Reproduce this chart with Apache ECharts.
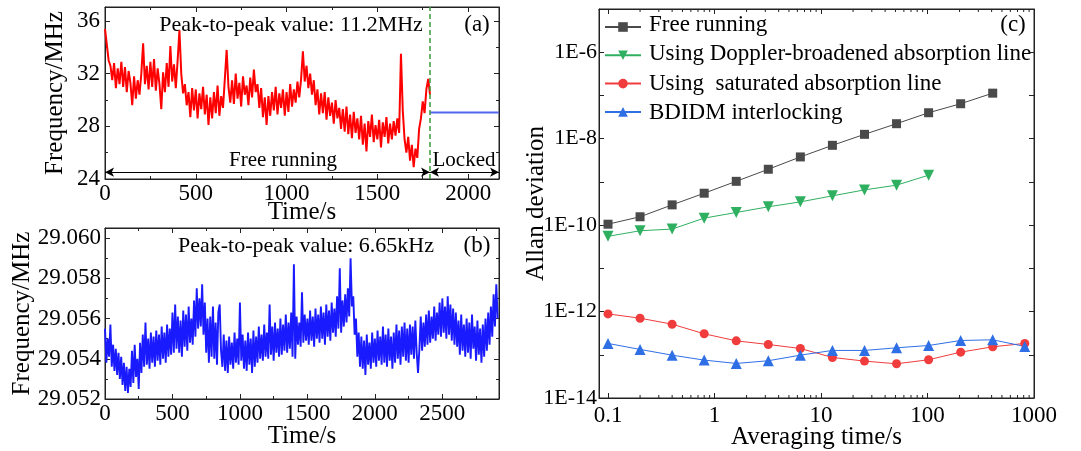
<!DOCTYPE html>
<html>
<head>
<meta charset="utf-8">
<script src="https://cdn.jsdelivr.net/npm/echarts@6/dist/echarts.min.js"></script>
<style>
  html, body { margin: 0; padding: 0; background: #fff; }
  #main { width: 1081px; height: 451px; }
</style>
</head>
<body>
<div id="main"></div>
<script>
// (a) free running beat frequency, one sample every 10 s, MHz
var freeRunStep = 10;
var freeRunMHz = [
  35.4, 34.2, 33.0, 32.6, 31.5, 32.8, 30.9, 32.4, 31.2, 32.9,
  31.0, 32.5, 30.6, 32.2, 31.3, 29.6, 31.8, 30.1, 31.5, 30.4,
  32.0, 34.3, 31.2, 32.6, 30.8, 32.9, 31.0, 33.1, 30.7, 32.4,
  31.2, 29.3, 32.1, 30.6, 32.8, 31.0, 34.1, 31.4, 32.7, 30.9,
  33.0, 35.3, 32.0, 30.5, 31.2, 29.6, 30.6, 28.7, 30.9, 29.2,
  30.8, 28.6, 30.5, 29.3, 31.0, 28.9, 30.4, 28.1, 30.2, 28.6,
  30.6, 29.0, 31.1, 28.8, 30.3, 29.4, 31.6, 33.8, 31.0, 29.8,
  31.5, 29.7, 32.0, 30.1, 31.3, 29.5, 31.8, 30.4, 31.1, 29.6,
  31.7, 30.2, 32.3, 30.6, 31.2, 29.4, 30.9, 28.7, 30.2, 28.1,
  30.3, 28.8, 30.6, 29.2, 31.0, 28.9, 30.5, 29.4, 30.8, 28.8,
  30.6, 29.1, 31.2, 29.5, 30.8, 29.8, 31.4, 30.2, 31.6, 33.7,
  31.4, 32.6, 30.9, 32.0, 30.4, 31.5, 29.6, 30.8, 28.9, 30.5,
  29.0, 30.6, 28.5, 30.2, 28.8, 29.8, 28.2, 30.0, 28.6, 29.4,
  27.8, 29.3, 27.6, 29.5, 27.4, 28.9, 27.1, 29.1, 27.5, 28.6,
  27.0, 28.8, 26.6, 28.2, 26.1, 28.4, 27.2, 28.9, 26.8, 28.1,
  27.0, 28.5, 26.4, 28.3, 27.2, 28.7, 26.7, 28.2, 27.0, 28.4,
  27.3, 28.6, 27.5, 33.5, 29.2, 27.0, 26.0, 27.2, 25.4, 26.6,
  24.9, 26.3, 25.6, 27.8, 28.6, 29.9, 29.0, 30.8, 31.6, 30.4
];
var lockTime = 1790;
var lockedMHz = 29.054;
var timeEndA = 2170;

// (b) locked beat frequency, one sample every 10 s, MHz
var lockedStep = 10;
var lockedTraceMHz = [
  29.0555, 29.0538, 29.0550, 29.0541, 29.0557, 29.0536, 29.0547, 29.0534, 29.0545, 29.0532,
  29.0543, 29.0530, 29.0541, 29.0527, 29.0538, 29.0524, 29.0536, 29.0523, 29.0535, 29.0526,
  29.0544, 29.0528, 29.0547, 29.0531, 29.0540, 29.0525, 29.0548, 29.0533, 29.0552, 29.0536,
  29.0558, 29.0537, 29.0550, 29.0535, 29.0553, 29.0538, 29.0551, 29.0536, 29.0554, 29.0539,
  29.0552, 29.0537, 29.0556, 29.0540, 29.0553, 29.0538, 29.0557, 29.0541, 29.0555, 29.0542,
  29.0563, 29.0543, 29.0567, 29.0545, 29.0561, 29.0543, 29.0559, 29.0541, 29.0564, 29.0546,
  29.0562, 29.0544, 29.0566, 29.0548, 29.0560, 29.0547, 29.0569, 29.0551, 29.0575, 29.0555,
  29.0570, 29.0556, 29.0577, 29.0552, 29.0568, 29.0543, 29.0560, 29.0538, 29.0561, 29.0541,
  29.0566, 29.0540, 29.0558, 29.0537, 29.0563, 29.0567, 29.0544, 29.0536, 29.0552, 29.0534,
  29.0549, 29.0533, 29.0551, 29.0537, 29.0548, 29.0535, 29.0553, 29.0538, 29.0550, 29.0537,
  29.0568, 29.0539, 29.0552, 29.0535, 29.0549, 29.0534, 29.0553, 29.0537, 29.0550, 29.0533,
  29.0554, 29.0536, 29.0551, 29.0538, 29.0556, 29.0540, 29.0552, 29.0539, 29.0557, 29.0541,
  29.0553, 29.0540, 29.0567, 29.0542, 29.0556, 29.0539, 29.0558, 29.0543, 29.0555, 29.0541,
  29.0560, 29.0542, 29.0557, 29.0544, 29.0562, 29.0543, 29.0558, 29.0545, 29.0563, 29.0541,
  29.0587, 29.0540, 29.0561, 29.0547, 29.0558, 29.0546, 29.0573, 29.0548, 29.0562, 29.0549,
  29.0560, 29.0547, 29.0564, 29.0549, 29.0561, 29.0546, 29.0565, 29.0550, 29.0562, 29.0548,
  29.0566, 29.0550, 29.0563, 29.0547, 29.0567, 29.0551, 29.0564, 29.0549, 29.0568, 29.0553,
  29.0565, 29.0551, 29.0571, 29.0555, 29.0585, 29.0553, 29.0569, 29.0556, 29.0572, 29.0558,
  29.0575, 29.0561, 29.0590, 29.0566, 29.0571, 29.0552, 29.0560, 29.0541, 29.0553, 29.0536,
  29.0551, 29.0535, 29.0549, 29.0532, 29.0552, 29.0537, 29.0548, 29.0535, 29.0553, 29.0538,
  29.0550, 29.0536, 29.0554, 29.0539, 29.0551, 29.0537, 29.0556, 29.0538, 29.0552, 29.0536,
  29.0555, 29.0539, 29.0551, 29.0535, 29.0553, 29.0538, 29.0557, 29.0540, 29.0554, 29.0537,
  29.0556, 29.0541, 29.0558, 29.0539, 29.0555, 29.0538, 29.0557, 29.0542, 29.0556, 29.0540,
  29.0559, 29.0543, 29.0533, 29.0545, 29.0561, 29.0544, 29.0558, 29.0546, 29.0562, 29.0547,
  29.0564, 29.0548, 29.0561, 29.0550, 29.0566, 29.0549, 29.0563, 29.0552, 29.0568, 29.0551,
  29.0570, 29.0553, 29.0566, 29.0550, 29.0571, 29.0552, 29.0567, 29.0549, 29.0565, 29.0547,
  29.0563, 29.0546, 29.0559, 29.0542, 29.0562, 29.0544, 29.0557, 29.0541, 29.0560, 29.0543,
  29.0558, 29.0540, 29.0562, 29.0545, 29.0556, 29.0539, 29.0559, 29.0542, 29.0555, 29.0538,
  29.0557, 29.0541, 29.0560, 29.0544, 29.0563, 29.0547, 29.0566, 29.0551, 29.0572, 29.0556,
  29.0577, 29.0560
];
var timeEndB = 2920;

// (c) Allan deviation
var tau = [0.1, 0.2, 0.4, 0.8, 1.6, 3.2, 6.4, 12.8, 25.6, 51.2, 102.4, 204.8, 409.6, 819.2];
var adevFree = [1.05e-10, 1.56e-10, 2.94e-10, 5.47e-10, 1.03e-9, 1.96e-9, 3.78e-9, 7.02e-9, 1.26e-8, 2.22e-8, 3.98e-8, 6.43e-8, 1.13e-7];
var adevDoppler = [5.5e-11, 7.4e-11, 8.1e-11, 1.45e-10, 1.96e-10, 2.65e-10, 3.45e-10, 4.75e-10, 6.53e-10, 8.4e-10, 1.43e-9];
var adevSaturated = [8.83e-13, 7.02e-13, 5.1e-13, 3.06e-13, 2.1e-13, 1.73e-13, 1.4e-13, 8.67e-14, 7.14e-14, 6.19e-14, 7.67e-14, 1.15e-13, 1.53e-13, 1.83e-13];
var adevBdidm = [1.83e-13, 1.33e-13, 9.8e-14, 7.53e-14, 6.3e-14, 7.28e-14, 9.8e-14, 1.26e-13, 1.26e-13, 1.45e-13, 1.64e-13, 2.14e-13, 2.22e-13, 1.56e-13];
var tauMinorTicks = [0.2, 0.3, 0.4, 0.5, 0.6, 0.7, 0.8, 0.9, 2, 3, 4, 5, 6, 7, 8, 9,
  20, 30, 40, 50, 60, 70, 80, 90, 200, 300, 400, 500, 600, 700, 800, 900];
var legendNames = ['Free running', 'Using Doppler-broadened absorption line', 'Using  saturated absorption line', 'BDIDM interlocking'];

var serif = '"Liberation Serif", "Times New Roman", serif';
var ink = '#222';

function pairs(list, xs) {
  return list.map(function (v, i) { return [xs[i], v]; });
}
function sampled(list, step) {
  return list.map(function (v, i) { return [i * step, v]; });
}
function label(text, x, y, size, align) {
  return {type: 'text', x: x, y: y, silent: true,
    style: {text: text, fill: '#000', font: size + 'px ' + serif, textAlign: align || 'center', textVerticalAlign: 'middle'}};
}

// main axis with name and labels
function mainAxis(grid, cfg) {
  var ax = {
    gridIndex: grid,
    type: cfg.type || 'value',
    min: cfg.min,
    max: cfg.max,
    splitLine: {show: false},
    axisLine: {show: true, onZero: false, lineStyle: {color: ink, width: 1}},
    axisTick: {show: true, inside: true, length: 5, lineStyle: {color: ink}},
    minorTick: {show: !!cfg.minor, splitNumber: 2, length: 3, lineStyle: {color: ink}},
    axisLabel: {
      color: '#000', fontFamily: serif, fontSize: cfg.fontSize || 23,
      margin: cfg.margin, showMaxLabel: !!cfg.showMax,
      formatter: cfg.formatter || function (v) { return String(v); }
    },
    name: cfg.name,
    nameLocation: 'middle',
    nameGap: cfg.nameGap,
    nameMoveOverlap: false,
    nameTextStyle: {color: '#000', fontFamily: serif, fontSize: 25}
  };
  if (cfg.interval) ax.interval = cfg.interval;
  if (cfg.splitNumber) ax.splitNumber = cfg.splitNumber;
  if (cfg.type === 'log') ax.logBase = 10;
  return ax;
}
// mirror axis on top / right, ticks only
function mirrorAxis(grid, pos, cfg) {
  var ax = mainAxis(grid, cfg);
  ax.position = pos;
  ax.name = '';
  ax.axisLabel = {show: false};
  return ax;
}

var xA = {min: 0, max: timeEndA, interval: 500, minor: true, margin: 3, name: 'Time/s', nameGap: 21};
var yA = {min: 24, max: 37.06, interval: 4, minor: true, margin: 5, name: 'Frequency/MHz', nameGap: 37};
var xB = {min: 0, max: timeEndB, interval: 500, minor: true, margin: 3, name: 'Time/s', nameGap: 25};
var yB = {min: 29.052, max: 29.0605, interval: 0.002, minor: true, margin: 4, name: 'Frequency/MHz', nameGap: 70,
  formatter: function (v) { return v.toFixed(3); }};
var xC = {type: 'log', min: 0.0823, max: 1000, splitNumber: 5, margin: 6, showMax: true, name: 'Averaging time/s', nameGap: 27,
  formatter: function (v) {
    var e = Math.log10(v);
    if (Math.abs(e - Math.round(e)) > 1e-6) return '';
    return String(Number(Math.pow(10, Math.round(e)).toPrecision(1)));
  }};
var yC = {type: 'log', min: 1e-14, max: 1e-5, splitNumber: 9, margin: 2, fontSize: 22, name: 'Allan deviation', nameGap: 50,
  formatter: function (v) {
    var e = Math.round(Math.log10(v));
    if (Math.abs(Math.log10(v) - e) > 1e-6 || e % 2 !== 0 || e > -6) return '';
    return '1E' + e;
  }};

var gridBase = {show: true, borderColor: ink, borderWidth: 1, outerBoundsMode: 'none', containLabel: false};

var option = {
  animation: false,
  backgroundColor: '#fff',
  grid: [
    Object.assign({left: 105, top: 7, width: 394, height: 172}, gridBase),
    Object.assign({left: 105, top: 228, width: 394, height: 171}, gridBase),
    Object.assign({left: 599, top: 9, width: 435, height: 389}, gridBase)
  ],
  xAxis: [
    mainAxis(0, xA), mirrorAxis(0, 'top', xA),
    mainAxis(1, xB), mirrorAxis(1, 'top', xB),
    mainAxis(2, xC), mirrorAxis(2, 'top', xC)
  ],
  yAxis: [
    mainAxis(0, yA), mirrorAxis(0, 'right', yA),
    mainAxis(1, yB), mirrorAxis(1, 'right', yB),
    mainAxis(2, yC), mirrorAxis(2, 'right', yC)
  ],
  // legend draws the line+marker keys; the serif names are placed beside them below
  legend: {
    data: legendNames,
    orient: 'vertical',
    left: 604,
    top: 21,
    itemWidth: 36,
    itemHeight: 12,
    itemGap: 17.5,
    padding: 0,
    formatter: function () { return ''; }
  },
  graphic: [
    label('Peak-to-peak value: 11.2MHz', 291, 25, 22),
    label('(a)', 477, 25, 23),
    label('Free running', 283, 160, 21),
    label('Locked', 464, 160, 21),
    label('Peak-to-peak value: 6.65kHz', 306, 246, 22),
    label('(b)', 477, 246, 23),
    label('(c)', 1013, 25, 23),
    label(legendNames[0], 649, 25, 23, 'left'),
    label(legendNames[1], 649, 54, 23, 'left'),
    label(legendNames[2], 649, 84, 23, 'left'),
    label(legendNames[3], 649, 113, 23, 'left')
  ],
  series: [
    {
      name: 'free', type: 'line', xAxisIndex: 0, yAxisIndex: 0,
      data: sampled(freeRunMHz, freeRunStep).concat([[lockTime, freeRunMHz[freeRunMHz.length - 1]]]),
      showSymbol: false, lineStyle: {color: '#ff0000', width: 2}, itemStyle: {color: '#ff0000'},
      markLine: {
        silent: true, symbol: ['arrow', 'arrow'], symbolSize: [7, 9],
        lineStyle: {color: '#000', width: 1, type: 'solid'},
        label: {show: false},
        data: [
          [{coord: [0, 24.52]}, {coord: [lockTime, 24.52]}],
          [{coord: [lockTime, 24.52]}, {coord: [timeEndA, 24.52]}]
        ]
      }
    },
    {
      name: 'lockedA', type: 'line', xAxisIndex: 0, yAxisIndex: 0,
      data: [[lockTime, lockedMHz], [timeEndA, lockedMHz]],
      showSymbol: false, lineStyle: {color: '#5566ee', width: 2},
      markLine: {
        silent: true, symbol: 'none',
        lineStyle: {color: '#3a9a3a', width: 1.5, type: [5, 3]},
        label: {show: false},
        data: [{xAxis: lockTime}]
      }
    },
    {
      name: 'lockedB', type: 'line', xAxisIndex: 2, yAxisIndex: 2,
      data: sampled(lockedTraceMHz, lockedStep),
      showSymbol: false, lineStyle: {color: '#1a1aff', width: 1.9}
    },
    {
      name: legendNames[0], type: 'line', xAxisIndex: 4, yAxisIndex: 4,
      data: pairs(adevFree, tau), symbol: 'rect', symbolSize: 9,
      color: '#4a4a4a', lineStyle: {width: 1}
    },
    {
      name: legendNames[1], type: 'line', xAxisIndex: 4, yAxisIndex: 4,
      data: pairs(adevDoppler, tau), symbol: 'triangle', symbolRotate: 180, symbolSize: 11,
      color: '#2fb060', lineStyle: {width: 1}
    },
    {
      name: legendNames[2], type: 'line', xAxisIndex: 4, yAxisIndex: 4,
      data: pairs(adevSaturated, tau), symbol: 'circle', symbolSize: 9,
      color: '#f03c3c', lineStyle: {width: 1}
    },
    {
      name: legendNames[3], type: 'line', xAxisIndex: 4, yAxisIndex: 4,
      data: pairs(adevBdidm, tau), symbol: 'triangle', symbolSize: 11,
      color: '#2f6fe6', lineStyle: {width: 1}
    },
    {
      // log-spaced minor ticks on the tau axis (bottom and top)
      type: 'custom', xAxisIndex: 4, yAxisIndex: 4, silent: true, clip: false,
      data: tauMinorTicks.map(function (v) { return [v, 1e-14]; }),
      renderItem: function (params, api) {
        var x = api.coord([api.value(0), 1e-14])[0];
        var r = params.coordSys;
        var st = {stroke: ink, lineWidth: 1};
        return {
          type: 'group',
          children: [
            {type: 'line', shape: {x1: x, y1: r.y + r.height, x2: x, y2: r.y + r.height - 3}, style: st},
            {type: 'line', shape: {x1: x, y1: r.y, x2: x, y2: r.y + 3}, style: st}
          ]
        };
      }
    }
  ]
};

var myChart = echarts.init(document.getElementById('main'), null, {renderer: 'canvas'});
myChart.setOption(option);
</script>
</body>
</html>
